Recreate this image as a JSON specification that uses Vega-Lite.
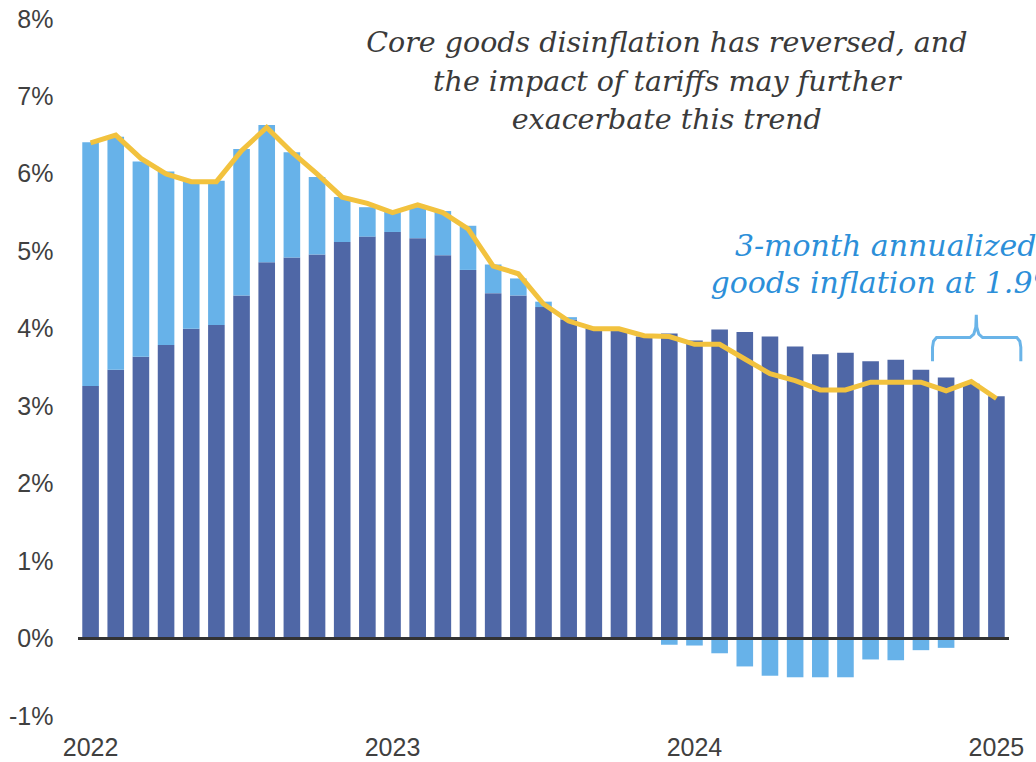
{
  "$schema": "https://vega.github.io/schema/vega-lite/v6.json",
  "autosize": {"type": "none"},
  "width": 931,
  "height": 697,
  "padding": {"left": 78, "top": 19, "right": 27, "bottom": 46},
  "background": "white",
  "config": {
    "view": {"stroke": null},
    "font": "Liberation Sans",
    "axis": {"labelFont": "Liberation Sans"}
  },
  "datasets": {
    "cpi": [
      {"month": "2022-02", "services": 3.26, "goods": 3.15, "core": 6.40},
      {"month": "2022-03", "services": 3.47, "goods": 3.01, "core": 6.50},
      {"month": "2022-04", "services": 3.64, "goods": 2.52, "core": 6.20},
      {"month": "2022-05", "services": 3.79, "goods": 2.24, "core": 6.00},
      {"month": "2022-06", "services": 4.00, "goods": 1.91, "core": 5.90},
      {"month": "2022-07", "services": 4.05, "goods": 1.86, "core": 5.90},
      {"month": "2022-08", "services": 4.43, "goods": 1.89, "core": 6.30},
      {"month": "2022-09", "services": 4.86, "goods": 1.77, "core": 6.60},
      {"month": "2022-10", "services": 4.92, "goods": 1.36, "core": 6.28},
      {"month": "2022-11", "services": 4.96, "goods": 1.00, "core": 6.00},
      {"month": "2022-12", "services": 5.12, "goods": 0.58, "core": 5.70},
      {"month": "2023-01", "services": 5.19, "goods": 0.38, "core": 5.62},
      {"month": "2023-02", "services": 5.25, "goods": 0.27, "core": 5.50},
      {"month": "2023-03", "services": 5.17, "goods": 0.40, "core": 5.60},
      {"month": "2023-04", "services": 4.95, "goods": 0.57, "core": 5.50},
      {"month": "2023-05", "services": 4.76, "goods": 0.57, "core": 5.29},
      {"month": "2023-06", "services": 4.46, "goods": 0.37, "core": 4.81},
      {"month": "2023-07", "services": 4.43, "goods": 0.22, "core": 4.71},
      {"month": "2023-08", "services": 4.28, "goods": 0.07, "core": 4.32},
      {"month": "2023-09", "services": 4.12, "goods": 0.03, "core": 4.10},
      {"month": "2023-10", "services": 4.00, "goods": 0.02, "core": 4.00},
      {"month": "2023-11", "services": 3.97, "goods": 0.01, "core": 4.00},
      {"month": "2023-12", "services": 3.90, "goods": 0.00, "core": 3.91},
      {"month": "2024-01", "services": 3.94, "goods": -0.08, "core": 3.90},
      {"month": "2024-02", "services": 3.85, "goods": -0.09, "core": 3.80},
      {"month": "2024-03", "services": 3.99, "goods": -0.19, "core": 3.80},
      {"month": "2024-04", "services": 3.96, "goods": -0.36, "core": 3.61},
      {"month": "2024-05", "services": 3.90, "goods": -0.48, "core": 3.42},
      {"month": "2024-06", "services": 3.77, "goods": -0.50, "core": 3.33},
      {"month": "2024-07", "services": 3.67, "goods": -0.50, "core": 3.21},
      {"month": "2024-08", "services": 3.69, "goods": -0.50, "core": 3.21},
      {"month": "2024-09", "services": 3.58, "goods": -0.27, "core": 3.31},
      {"month": "2024-10", "services": 3.60, "goods": -0.28, "core": 3.31},
      {"month": "2024-11", "services": 3.47, "goods": -0.15, "core": 3.31},
      {"month": "2024-12", "services": 3.37, "goods": -0.12, "core": 3.20},
      {"month": "2025-01", "services": 3.29, "goods": 0.00, "core": 3.32},
      {"month": "2025-02", "services": 3.13, "goods": 0.00, "core": 3.10}
    ],
    "brace": [
      {"k": 0, "pos": 33.46, "level": 3.58},
      {"k": 1, "pos": 33.46, "level": 3.76},
      {"k": 2, "pos": 33.50, "level": 3.84},
      {"k": 3, "pos": 33.62, "level": 3.887},
      {"k": 4, "pos": 34.95, "level": 3.887},
      {"k": 5, "pos": 35.10, "level": 3.93},
      {"k": 6, "pos": 35.18, "level": 4.02},
      {"k": 7, "pos": 35.20, "level": 4.18},
      {"k": 8, "pos": 35.22, "level": 4.02},
      {"k": 9, "pos": 35.30, "level": 3.93},
      {"k": 10, "pos": 35.45, "level": 3.887},
      {"k": 11, "pos": 36.81, "level": 3.887},
      {"k": 12, "pos": 36.93, "level": 3.84},
      {"k": 13, "pos": 36.97, "level": 3.76},
      {"k": 14, "pos": 36.97, "level": 3.58}
    ],
    "titleNote": [{"pos": 22.9, "level": 7.57}],
    "goodsNote": [{"pos": 31.6, "level": 4.946}]
  },
  "layer": [
    {
      "data": {"name": "cpi"},
      "layer": [
        {
          "transform": [{"fold": ["services", "goods"], "as": ["series", "value"]}],
          "mark": {"type": "bar"},
          "encoding": {
            "x": {
              "field": "month",
              "type": "ordinal",
              "scale": {"paddingInner": 0.34},
              "axis": {
                "values": ["2022-02", "2023-02", "2024-02", "2025-02"],
                "labelExpr": "substring(datum.value, 0, 4)",
                "ticks": false,
                "domain": false,
                "grid": false,
                "labelAngle": 0,
                "labelFontSize": 25,
                "labelColor": "#404040",
                "labelPadding": 19,
                "labelOverlap": false,
                "labelBound": false,
                "title": null
              }
            },
            "y": {
              "field": "value",
              "type": "quantitative",
              "scale": {"domain": [-1, 8], "nice": false},
              "axis": {
                "values": [-1, 0, 1, 2, 3, 4, 5, 6, 7, 8],
                "labelExpr": "datum.value + '%'",
                "ticks": false,
                "domain": false,
                "grid": false,
                "labelFontSize": 25,
                "labelColor": "#404040",
                "labelPadding": 25,
                "title": null
              }
            },
            "color": {
              "field": "series",
              "type": "nominal",
              "scale": {"domain": ["services", "goods"], "range": ["#4F67A6", "#67B2E9"]},
              "legend": null
            },
            "order": {"field": "series", "sort": "descending"}
          }
        },
        {
          "mark": {"type": "rule", "color": "#333333", "strokeWidth": 3},
          "encoding": {"y": {"datum": 0}}
        },
        {
          "mark": {"type": "line", "color": "#F2C23E", "strokeWidth": 5},
          "encoding": {
            "x": {"field": "month", "type": "ordinal"},
            "y": {"field": "core", "type": "quantitative", "scale": {"domain": [-1, 8], "nice": false}}
          }
        }
      ]
    },
    {
      "layer": [
        {
          "data": {"name": "brace"},
          "mark": {"type": "line", "color": "#6AB4E8", "strokeWidth": 3, "clip": false},
          "encoding": {
            "x": {"field": "pos", "type": "quantitative", "scale": {"domain": [-0.5, 36.5], "nice": false, "zero": false}, "axis": null},
            "y": {"field": "level", "type": "quantitative", "scale": {"domain": [-1, 8], "nice": false}},
            "order": {"field": "k"}
          }
        },
        {
          "data": {"name": "titleNote"},
          "mark": {
            "type": "text",
            "text": ["Core goods disinflation has reversed, and", "the impact of tariffs may further", "exacerbate this trend"],
            "font": "DejaVu Serif",
            "fontStyle": "italic",
            "fontSize": 28.5,
            "lineHeight": 38.3,
            "color": "#3a3a3a",
            "align": "center",
            "baseline": "alphabetic",
            "clip": false
          },
          "encoding": {
            "x": {"field": "pos", "type": "quantitative", "scale": {"domain": [-0.5, 36.5], "nice": false, "zero": false}, "axis": null},
            "y": {"field": "level", "type": "quantitative", "scale": {"domain": [-1, 8], "nice": false}}
          }
        },
        {
          "data": {"name": "goodsNote"},
          "mark": {
            "type": "text",
            "text": ["3-month annualized", "goods inflation at 1.9%"],
            "font": "DejaVu Serif",
            "fontStyle": "italic",
            "fontSize": 30,
            "lineHeight": 37.7,
            "color": "#2C8FD9",
            "align": "center",
            "baseline": "alphabetic",
            "clip": false
          },
          "encoding": {
            "x": {"field": "pos", "type": "quantitative", "scale": {"domain": [-0.5, 36.5], "nice": false, "zero": false}, "axis": null},
            "y": {"field": "level", "type": "quantitative", "scale": {"domain": [-1, 8], "nice": false}}
          }
        }
      ]
    }
  ],
  "resolve": {"scale": {"x": "independent"}}
}
